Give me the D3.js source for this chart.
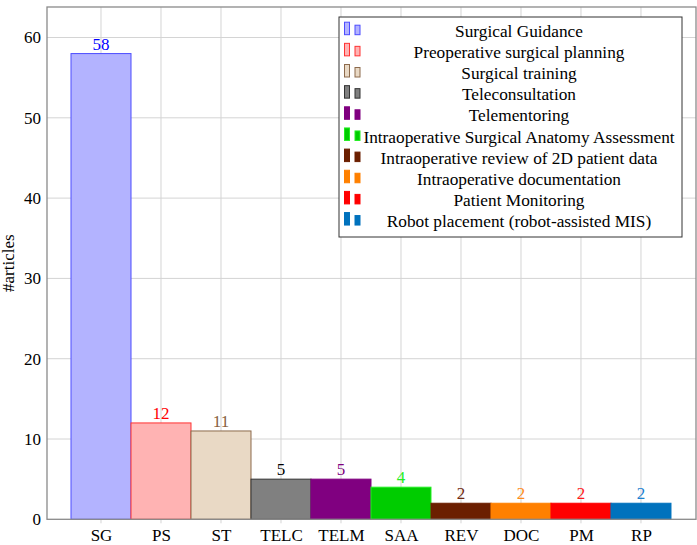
<!DOCTYPE html>
<html><head><meta charset="utf-8">
<script src="https://cdn.jsdelivr.net/npm/d3@7"></script>
<style>body{margin:0;background:#fff}svg{display:block}</style>
</head><body>
<svg id="c" width="697" height="545"></svg>
<script>
const categories = ["SG","PS","ST","TELC","TELM","SAA","REV","DOC","PM","RP"];
const values = [58,12,11,5,5,4,2,2,2,2];
const legendLabels = ["Surgical Guidance","Preoperative surgical planning","Surgical training","Teleconsultation","Telementoring","Intraoperative Surgical Anatomy Assessment","Intraoperative review of 2D patient data","Intraoperative documentation","Patient Monitoring","Robot placement (robot-assisted MIS)"];
const fills = ["#b3b3ff","#ffb3b3","#e9d9c5","#808080","#800080","#00cc00","#6b1f00","#ff8000","#ff0000","#0072bd"];
const strokes = ["#4d4dff","#ff3333","#8c6a4c","#333333","#800080","#22ee22","#6b1f00","#ff8000","#ff0000","#0072bd"];
const labelColors = ["#0000ff","#ff0000","#8a6040","#000000","#800080","#22ee22","#702a10","#ff8c1a","#ff1a1a","#1a80d0"];
const yTicks = [0,10,20,30,40,50,60];

const svg = d3.select("#c");
const font = "'Liberation Serif','Times New Roman',serif";
const L=47, R=696, T=7, B=519.3;
const x = d3.scaleLinear().domain([-0.9, 9.917]).range([L, R]);
const y = d3.scaleLinear().domain([0, 63.8]).range([B, T]);

// grid
svg.append("g").selectAll("line").data(categories).join("line")
  .attr("x1",(d,i)=>x(i)).attr("x2",(d,i)=>x(i)).attr("y1",T).attr("y2",B+4)
  .attr("stroke","#d4d4d4").attr("stroke-width",1);
svg.append("g").selectAll("line").data(yTicks.filter(v=>v>0)).join("line")
  .attr("x1",L).attr("x2",R).attr("y1",d=>y(d)).attr("y2",d=>y(d))
  .attr("stroke","#d4d4d4").attr("stroke-width",1);

// bars
svg.append("g").selectAll("rect").data(values).join("rect")
  .attr("x",(d,i)=>x(i-0.5)).attr("width",(d,i)=>x(i+0.5)-x(i-0.5))
  .attr("y",d=>y(d)).attr("height",d=>B-y(d))
  .attr("fill",(d,i)=>fills[i]).attr("stroke",(d,i)=>strokes[i]).attr("stroke-width",1);

// value labels
svg.append("g").selectAll("text").data(values).join("text")
  .attr("x",(d,i)=>x(i)).attr("y",d=>y(d)-4)
  .attr("text-anchor","middle").attr("font-family",font).attr("font-size",17)
  .attr("fill",(d,i)=>labelColors[i]).text(d=>d);

// frame
svg.append("rect").attr("x",L).attr("y",T).attr("width",R-L).attr("height",B-T)
  .attr("fill","none").attr("stroke","#8a8a8a").attr("stroke-width",1.3);

// axes labels
const xAxis = d3.axisBottom(x).tickValues(d3.range(categories.length)).tickFormat(i=>categories[i]).tickSize(0).tickPadding(10);
const gx = svg.append("g").attr("transform",`translate(0,${B})`).call(xAxis);
gx.select(".domain").remove();
gx.selectAll("text").attr("font-family",font).attr("font-size",17).attr("fill","#000");

const yAxis = d3.axisLeft(y).tickValues(yTicks).tickSize(0).tickPadding(6);
const gy = svg.append("g").attr("transform",`translate(${L},0)`).call(yAxis);
gy.select(".domain").remove();
gy.selectAll("text").attr("font-family",font).attr("font-size",17).attr("fill","#000");

svg.append("text").attr("transform",`translate(14,${(T+B)/2}) rotate(-90)`)
  .attr("text-anchor","middle").attr("font-family",font).attr("font-size",17).text("#articles");

// legend
const lg = svg.append("g");
lg.append("rect").attr("x",339).attr("y",17).attr("width",343).attr("height",220)
  .attr("fill","#fff").attr("stroke","#333").attr("stroke-width",1);
const rowY = i => 30.7 + i*21.15;
const rows = lg.selectAll("g").data(legendLabels).join("g");
rows.append("rect").attr("x",344.5).attr("y",(d,i)=>rowY(i)-8.5).attr("width",5).attr("height",12.5)
  .attr("fill",(d,i)=>fills[i]).attr("stroke",(d,i)=>strokes[i]).attr("stroke-width",1);
rows.append("rect").attr("x",355).attr("y",(d,i)=>rowY(i)-5.5).attr("width",5).attr("height",9.5)
  .attr("fill",(d,i)=>fills[i]).attr("stroke",(d,i)=>strokes[i]).attr("stroke-width",1);
rows.append("text").attr("x",519).attr("y",(d,i)=>rowY(i)).attr("dy","0.35em")
  .attr("text-anchor","middle").attr("font-family",font).attr("font-size",17.3).text(d=>d);
</script>
</body></html>
